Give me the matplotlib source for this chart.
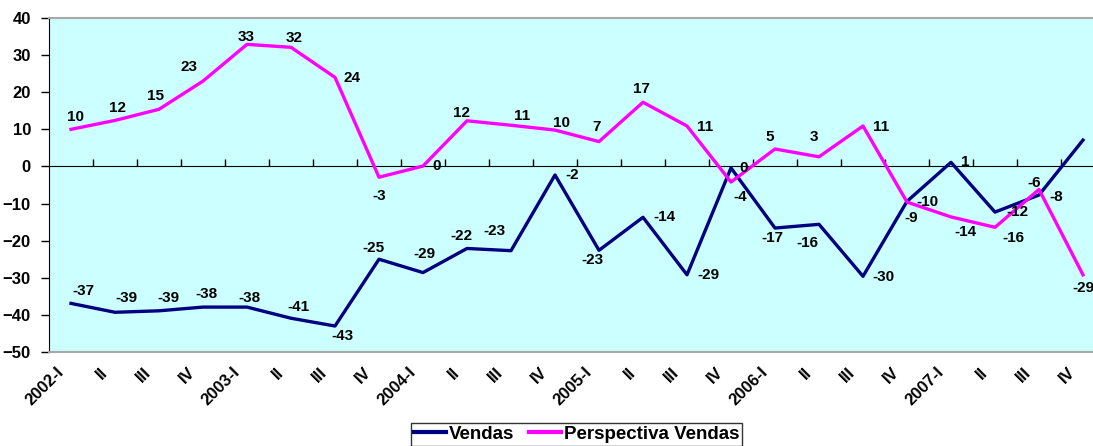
import matplotlib.pyplot as plt
import matplotlib.transforms as mtransforms
import numpy as np

# trimestres 2002-I .. 2007-IV
quarters = ['2002-I', 'II', 'III', 'IV', '2003-I', 'II', 'III', 'IV',
            '2004-I', 'II', 'III', 'IV', '2005-I', 'II', 'III', 'IV',
            '2006-I', 'II', 'III', 'IV', '2007-I', 'II', 'III', 'IV']

vendas = [-36.9, -39.3, -38.9, -37.9, -37.9, -40.9, -43.0, -25.0,
          -28.6, -22.1, -22.7, -2.3, -22.6, -13.7, -29.2, -0.4,
          -16.6, -15.6, -29.6, -9.4, 1.1, -12.3, -7.7, 7.1]

perspectiva = [10.0, 12.4, 15.4, 23.0, 32.9, 32.1, 24.0, -2.9,
               0.1, 12.3, 11.1, 9.8, 6.7, 17.3, 10.9, -4.2,
               4.7, 2.6, 10.9, -9.6, -13.6, -16.4, -6.2, -29.2]

# deslocamento dos rótulos (pixels) em relação ao ponto
off_vendas = [(12, 12), (11, 14), (9, 13), (3, 13), (2, 9), (7, 11), (7, -10), (-6, 11),
              (1, 19), (-6, 12), (-17, 20), (17, 0), (-7, -10), (21, 0), (21, 0), (13, 0),
              (-3, -10), (-12, -19), (20, -1), (4, -17), (14, 0), (22, 0), (17, -2), (17, 3)]
off_persp = [(4, 12), (2, 12), (-3, 13), (-14, 14), (-1, 7), (3, 9), (17, -1), (0, -19),
             (14, 0), (-5, 8), (11, 9), (7, 7), (-2, 15), (-2, 13), (18, -1), (9, -15),
             (-5, 12), (-5, 20), (18, -1), (20, 0), (14, -15), (18, -11), (-5, 6), (0, -13)]

navy = '#000080'
magenta = '#FF00FF'
fonte = 'Liberation Sans'

fig = plt.figure(figsize=(10.93, 4.46), dpi=100)
ax = fig.add_axes([49 / 1093, 1 - 352 / 446, 1056 / 1093, 334 / 446])
ax.set_facecolor('#CCFFFF')

x = np.arange(len(quarters))
ax.plot(x, vendas, color=navy, lw=2.4, label='Vendas')
ax.plot(x, perspectiva, color=magenta, lw=2.4, label='Perspectiva Vendas')

for serie, offs in [(vendas, off_vendas), (perspectiva, off_persp)]:
    for xi, v, o in zip(x, serie, offs):
        ax.annotate(f'{round(v):d}', (xi, v), xytext=(o[0] * 0.72, o[1] * 0.72),
                    textcoords='offset points', ha='center', va='center',
                    fontsize=11, fontweight='bold', family=fonte)

ax.set_xlim(-0.5, len(quarters) - 0.5)
ax.set_ylim(-50, 40)
ax.set_yticks(range(-50, 41, 10))
ax.tick_params(axis='y', direction='out', length=6, width=1, colors='black', pad=7)
for lab in ax.get_yticklabels():
    lab.set_fontweight('bold')
    lab.set_fontsize(12)
    lab.set_family(fonte)

ax.set_xticks(x)
ax.set_xticklabels(quarters, rotation=45, ha='right', va='center', rotation_mode='anchor',
                   fontsize=12, fontweight='bold', family=fonte)
ax.tick_params(axis='x', length=0, pad=13)
desloc = mtransforms.ScaledTranslation(-10 / 100, 0, fig.dpi_scale_trans)
for lab in ax.get_xticklabels():
    lab.set_transform(lab.get_transform() + desloc)

for s in ['top', 'bottom']:
    ax.spines[s].set_color('#a8a8a8')
    ax.spines[s].set_linewidth(1.5)
ax.spines['left'].set_color('black')
ax.spines['right'].set_visible(False)

# eixo das categorias no zero
sec = ax.secondary_xaxis(50 / 90)
sec.set_xticks(x[:-1] + 0.5)
sec.set_xticklabels([])
sec.tick_params(direction='out', length=5, width=1, colors='black')
sec.spines['bottom'].set_color('black')
sec.spines['bottom'].set_linewidth(1.2)

leg = fig.legend(loc='upper center', bbox_to_anchor=(0.5275, 0.0516), ncol=2,
                 frameon=True, fancybox=False, edgecolor='black', borderpad=0.15,
                 borderaxespad=0, handlelength=1.7, handletextpad=0.15, columnspacing=0.8,
                 prop={'family': fonte, 'weight': 'bold', 'size': 13.5})
leg.get_frame().set_linewidth(1.0)
for line in leg.get_lines():
    line.set_linewidth(3)

fig.savefig('out.png', dpi=100)
